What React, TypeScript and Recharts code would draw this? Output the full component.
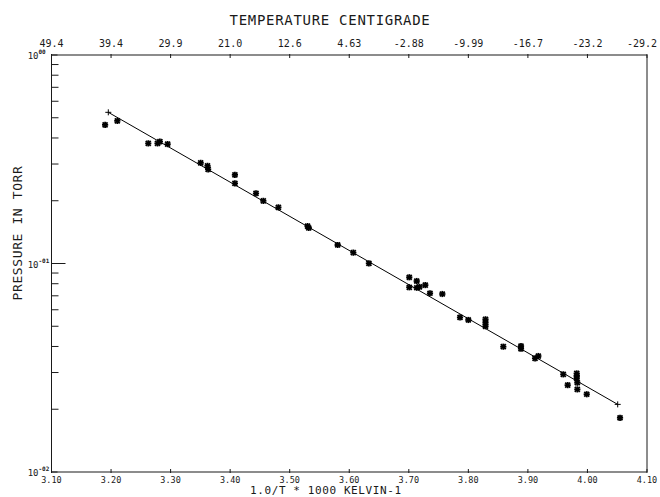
import React from 'react';
import { ComposedChart, Scatter, XAxis, YAxis, ReferenceLine } from 'recharts';

// ---- data ----
const xTicks = [3.1, 3.2, 3.3, 3.4, 3.5, 3.6, 3.7, 3.8, 3.9, 4.0, 4.1];
const xTickLabels = ['3.10', '3.20', '3.30', '3.40', '3.50', '3.60', '3.70', '3.80', '3.90', '4.00', '4.10'];
const celsiusLabels = ['49.4', '39.4', '29.9', '21.0', '12.6', '4.63', '-2.88', '-9.99', '-16.7', '-23.2', '-29.2'];
const yMajorTicks = [1, 0.1, 0.01];
const yMajorExps = ['00', '-01', '-02'];
const yMinorTicks = [0.02, 0.03, 0.04, 0.05, 0.06, 0.07, 0.08, 0.09, 0.2, 0.3, 0.4, 0.5, 0.6, 0.7, 0.8, 0.9];

const invTemp = [
  3.190, 3.2105, 3.2625, 3.278, 3.282, 3.295, 3.3505, 3.362, 3.363, 3.408, 3.408, 3.4434, 3.4557, 3.481,
  3.530, 3.532, 3.5806, 3.6068, 3.633, 3.7008, 3.7008, 3.7133, 3.7133, 3.718, 3.7277, 3.7356, 3.7563,
  3.786, 3.800, 3.8288, 3.8288, 3.8288, 3.8587, 3.8884, 3.8884, 3.912, 3.9175, 3.9594, 3.9668,
  3.982, 3.982, 3.982, 3.983, 3.983, 3.9988, 4.0547,
];
const pressure = [
  0.462, 0.483, 0.377, 0.377, 0.384, 0.374, 0.304, 0.294, 0.283, 0.266, 0.2425, 0.217, 0.1995, 0.186,
  0.151, 0.148, 0.1227, 0.1127, 0.1002, 0.0859, 0.0769, 0.0824, 0.0765, 0.0772, 0.0788, 0.072, 0.0714,
  0.0551, 0.0536, 0.054, 0.052, 0.05, 0.0399, 0.0402, 0.039, 0.0351, 0.036, 0.0294, 0.0261,
  0.0297, 0.0289, 0.0281, 0.0268, 0.0249, 0.0236, 0.0182,
];
const fitInvTemp = [3.1954, 4.0508];
const fitPressure = [0.531, 0.0211];

const points = invTemp.map((x, i) => ({ x, y: pressure[i] }));
const fit = fitInvTemp.map((x, i) => ({ x, y: fitPressure[i] }));

const FONT = '"DejaVu Sans Mono", "Liberation Mono", monospace';
const INK = '#1a1a1a';

const BottomTick = (props: any) => {
  const { x, y, index } = props;
  return (
    <g>
      <line x1={x} x2={x} y1={y - 3} y2={y + 1} stroke={INK} strokeWidth={1} />
      <text x={x} y={y + 11} textAnchor="middle" fontSize={8.5} fontFamily={FONT} fill={INK}>
        {xTickLabels[index]}
      </text>
    </g>
  );
};

const TopTick = (props: any) => {
  const { x, y, index } = props;
  const last = index === celsiusLabels.length - 1;
  return (
    <g>
      <line x1={x} x2={x} y1={y - 1} y2={y + 3} stroke={INK} strokeWidth={1} />
      <text
        x={last ? x + 10 : x}
        y={y - 8}
        textAnchor={last ? 'end' : 'middle'}
        fontSize={10}
        fontFamily={FONT}
        fill={INK}
      >
        {celsiusLabels[index]}
      </text>
    </g>
  );
};

const LeftTick = (props: any) => {
  const { x, y, payload } = props;
  const v = payload.value;
  const mi = yMajorTicks.indexOf(v);
  if (mi >= 0) {
    const len = v === 0.1 ? 14 : 6;
    return (
      <g>
        <line x1={x} x2={x + len} y1={y} y2={y} stroke={INK} strokeWidth={1} />
        <text x={x - 13} y={y + 4} textAnchor="end" fontSize={9} fontFamily={FONT} fill={INK}>
          10
        </text>
        <text x={x - 13} y={y - 1} textAnchor="start" fontSize={6} fontWeight="bold" fontFamily={FONT} fill={INK}>
          {yMajorExps[mi]}
        </text>
      </g>
    );
  }
  return <line x1={x} x2={x + 7} y1={y} y2={y} stroke={INK} strokeWidth={1} />;
};

const Star = (props: any) => {
  const { cx, cy } = props;
  if (cx == null || cy == null) return <g />;
  const r = 3.1;
  const d = r * 0.8;
  return (
    <g stroke="#000" strokeWidth={1.8}>
      <line x1={cx - r} x2={cx + r} y1={cy} y2={cy} />
      <line x1={cx} x2={cx} y1={cy - r} y2={cy + r} />
      <line x1={cx - d} x2={cx + d} y1={cy - d} y2={cy + d} />
      <line x1={cx - d} x2={cx + d} y1={cy + d} y2={cy - d} />
    </g>
  );
};

const Plus = (props: any) => {
  const { cx, cy } = props;
  if (cx == null || cy == null) return <g />;
  return (
    <g stroke="#000" strokeWidth={1}>
      <line x1={cx - 3} x2={cx + 3} y1={cy} y2={cy} />
      <line x1={cx} x2={cx} y1={cy - 3} y2={cy + 3} />
    </g>
  );
};

export default function App() {
  return (
    <div style={{ position: 'absolute', left: 0, top: 0, width: 660, height: 497, background: '#fff' }}>
      <ComposedChart
        width={660}
        height={497}
        margin={{ top: 54, right: 13, bottom: 24, left: 50.5 }}
      >
        <XAxis
          xAxisId="b"
          dataKey="x"
          type="number"
          domain={[3.1, 4.1]}
          ticks={xTicks}
          interval={0}
          orientation="bottom"
          height={1}
          tickSize={0}
          tickMargin={0}
          tickLine={false}
          axisLine={{ stroke: INK, strokeWidth: 1.2 }}
          tick={<BottomTick />}
          allowDataOverflow
        />
        <XAxis
          xAxisId="t"
          dataKey="x"
          type="number"
          domain={[3.1, 4.1]}
          ticks={xTicks}
          interval={0}
          orientation="top"
          height={1}
          tickSize={0}
          tickMargin={0}
          tickLine={false}
          axisLine={{ stroke: INK, strokeWidth: 1.2 }}
          tick={<TopTick />}
          allowDataOverflow
        />
        <YAxis
          yAxisId="l"
          dataKey="y"
          type="number"
          scale="log"
          domain={[0.01, 1]}
          ticks={[...yMajorTicks, ...yMinorTicks]}
          interval={0}
          width={1}
          tickSize={0}
          tickMargin={0}
          tickLine={false}
          axisLine={{ stroke: INK, strokeWidth: 1 }}
          tick={<LeftTick />}
          allowDataOverflow
        />
        <ReferenceLine xAxisId="b" yAxisId="l" x={4.1} stroke={INK} strokeWidth={1} ifOverflow="visible" />
        <Scatter
          xAxisId="b"
          yAxisId="l"
          data={fit}
          line={{ stroke: '#000', strokeWidth: 1 }}
          shape={<Plus />}
          isAnimationActive={false}
        />
        <Scatter
          xAxisId="b"
          yAxisId="l"
          data={points}
          shape={<Star />}
          isAnimationActive={false}
        />
      </ComposedChart>
      <div
        style={{
          position: 'absolute', left: 0, width: 660, top: 11, textAlign: 'center',
          fontFamily: FONT, fontSize: 14, letterSpacing: 0.7, color: INK, lineHeight: '18px',
        }}
      >
        TEMPERATURE CENTIGRADE
      </div>
      <div
        style={{
          position: 'absolute', left: 250, top: 485, fontFamily: FONT, fontSize: 11, letterSpacing: 0.6,
          color: INK, lineHeight: '12px', whiteSpace: 'nowrap',
        }}
      >
        1.0/T * 1000 KELVIN-1
      </div>
      <div
        style={{
          position: 'absolute', left: 18, top: 233, width: 0, height: 0,
        }}
      >
        <div
          style={{
            position: 'absolute', left: 0, top: 0, transform: 'translate(-50%, -50%) rotate(-90deg)',
            fontFamily: FONT, fontSize: 13, letterSpacing: 0.6, color: INK, whiteSpace: 'nowrap', lineHeight: '16px',
          }}
        >
          PRESSURE IN TORR
        </div>
      </div>
    </div>
  );
}
